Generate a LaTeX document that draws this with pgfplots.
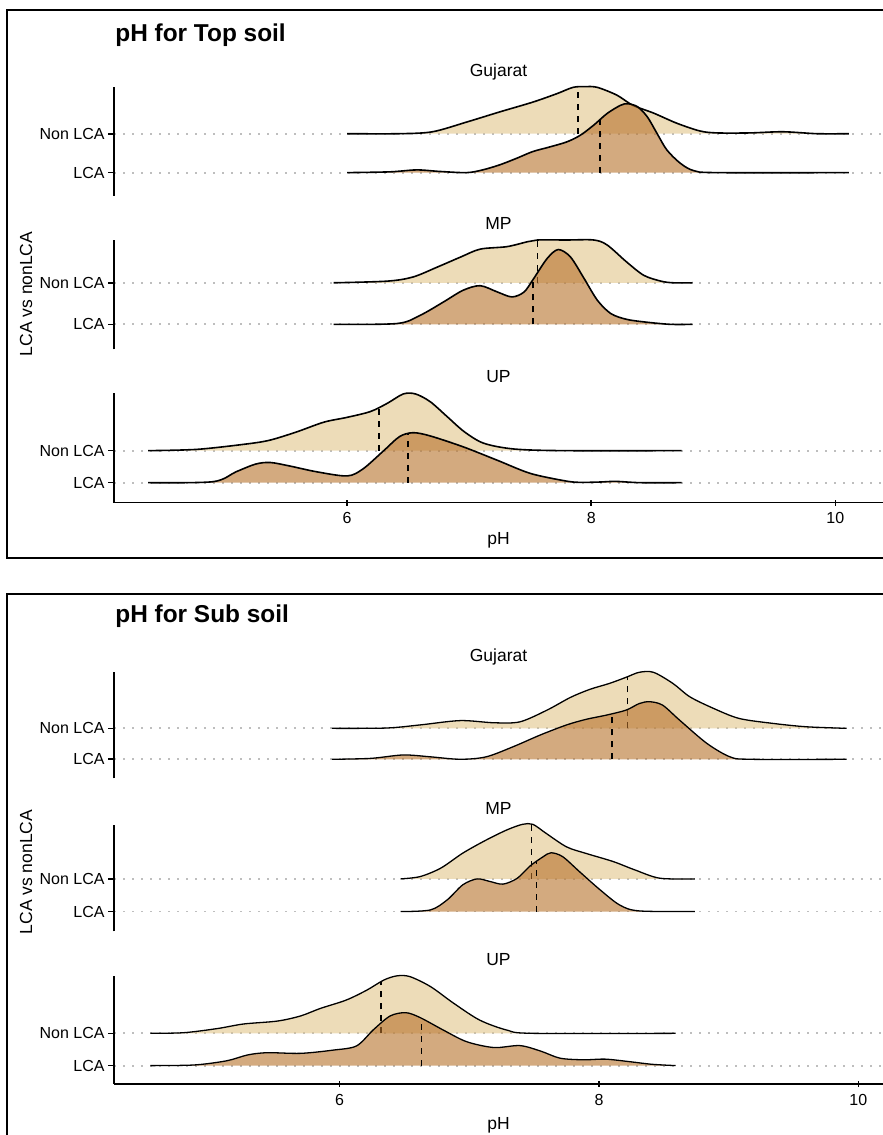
\documentclass[border=0pt]{standalone}
\usepackage{fontspec}
\setmainfont{Liberation Sans}
\usepackage{pgfplots}
\usepackage{pgfplotstable}
\pgfplotsset{compat=1.18}

\definecolor{nonlcafill}{RGB}{225,197,137}
\definecolor{lcafill}{RGB}{182,113,42}
\definecolor{gridc}{RGB}{190,190,190}

% ---------- Top soil densities (baseline: LCA = 1, Non LCA = 2) ----------
\pgfplotstableread{
x y
6.00 2.00
6.43 2.00
6.70 2.05
6.98 2.30
7.25 2.56
7.52 2.81
7.72 3.03
7.85 3.19
7.95 3.21
8.05 3.19
8.21 2.99
8.34 2.73
8.51 2.53
8.70 2.27
8.89 2.07
9.03 2.02
9.30 2.02
9.57 2.05
9.85 2.00
10.11 2.00
}\tGujNon
\pgfplotstableread{
x y
6.00 1.00
6.35 1.02
6.57 1.07
6.76 1.03
6.98 1.00
7.11 1.07
7.25 1.20
7.39 1.37
7.52 1.54
7.66 1.66
7.80 1.79
7.91 1.96
8.02 2.22
8.13 2.52
8.24 2.73
8.30 2.77
8.38 2.69
8.46 2.43
8.54 2.00
8.62 1.58
8.73 1.24
8.84 1.05
9.03 1.00
10.11 1.00
}\tGujLCA
\pgfplotstableread{
x y
5.89 2.00
6.33 2.04
6.54 2.14
6.74 2.38
6.93 2.62
7.09 2.81
7.31 2.87
7.48 2.99
7.56 3.03
7.80 3.03
8.02 3.03
8.13 2.91
8.29 2.50
8.43 2.18
8.57 2.04
8.67 2.00
8.83 2.00
}\tMPNon
\pgfplotstableread{
x y
5.89 1.00
6.41 1.02
6.60 1.22
6.79 1.54
6.95 1.82
7.09 1.93
7.23 1.78
7.35 1.66
7.45 1.78
7.53 2.11
7.64 2.59
7.73 2.80
7.83 2.62
7.94 2.11
8.05 1.58
8.16 1.26
8.29 1.12
8.46 1.05
8.65 1.00
8.83 1.00
}\tMPLCA
\pgfplotstableread{
x y
4.37 2.00
4.77 2.04
5.18 2.21
5.37 2.33
5.59 2.59
5.81 2.89
6.00 3.04
6.19 3.22
6.33 3.48
6.46 3.77
6.56 3.77
6.68 3.53
6.82 3.06
6.96 2.59
7.12 2.23
7.37 2.05
7.78 2.00
8.74 2.00
}\tUPNon
\pgfplotstableread{
x y
4.37 1.00
4.90 1.03
5.09 1.34
5.25 1.58
5.37 1.63
5.53 1.52
5.75 1.34
6.00 1.21
6.13 1.43
6.30 2.00
6.43 2.44
6.54 2.56
6.68 2.46
6.95 2.12
7.23 1.70
7.50 1.29
7.78 1.06
7.90 1.01
8.07 1.02
8.20 1.04
8.40 1.00
8.74 1.00
}\tUPLCA

% ---------- Sub soil densities ----------
\pgfplotstableread{
x y
5.94 2.00
6.36 2.01
6.62 2.11
6.93 2.25
7.19 2.18
7.39 2.21
7.60 2.59
7.78 3.00
7.93 3.26
8.08 3.45
8.21 3.65
8.31 3.81
8.42 3.81
8.57 3.45
8.70 3.02
8.88 2.65
9.08 2.32
9.34 2.16
9.60 2.05
9.91 2.00
}\bGujNon
\pgfplotstableread{
x y
5.94 1.00
6.24 1.03
6.49 1.14
6.70 1.08
6.93 1.00
7.13 1.08
7.34 1.41
7.55 1.79
7.75 2.11
7.90 2.29
8.06 2.43
8.21 2.59
8.31 2.80
8.39 2.86
8.49 2.75
8.62 2.27
8.83 1.52
9.01 1.08
9.17 1.00
9.91 1.00
}\bGujLCA
\pgfplotstableread{
x y
6.47 2.00
6.62 2.07
6.78 2.33
6.95 2.79
7.13 3.19
7.29 3.50
7.41 3.67
7.49 3.67
7.59 3.40
7.75 2.98
7.90 2.78
8.11 2.53
8.28 2.27
8.47 2.02
8.74 2.00
}\bMPNon
\pgfplotstableread{
x y
6.47 1.00
6.70 1.05
6.83 1.36
6.95 1.82
7.06 2.00
7.16 1.92
7.26 1.84
7.37 2.02
7.47 2.40
7.57 2.68
7.63 2.80
7.72 2.68
7.85 2.22
8.01 1.66
8.16 1.20
8.31 1.02
8.74 1.00
}\bMPLCA
\pgfplotstableread{
x y
4.54 2.00
4.80 2.02
5.06 2.15
5.26 2.29
5.52 2.38
5.70 2.54
5.85 2.77
6.05 3.03
6.21 3.34
6.34 3.65
6.44 3.78
6.54 3.76
6.70 3.45
6.88 2.93
7.08 2.41
7.29 2.10
7.49 2.00
8.59 2.00
}\bUPNon
\pgfplotstableread{
x y
4.54 1.00
4.88 1.02
5.13 1.15
5.29 1.33
5.44 1.40
5.70 1.38
5.95 1.48
6.13 1.61
6.26 2.11
6.39 2.54
6.51 2.64
6.62 2.49
6.80 2.10
6.98 1.74
7.19 1.56
7.39 1.62
7.55 1.45
7.70 1.23
7.88 1.18
8.05 1.20
8.24 1.12
8.41 1.04
8.59 1.00
}\bUPLCA

% one ridge: translucent fill, then the outline on top
\newcommand{\ridge}[3]{%
  \addplot[draw=none, fill=#2, fill opacity=0.6, smooth, tension=0.5] table {#1} -- cycle;
  \addplot[draw=black, line width=#3, smooth, tension=0.5] table {#1};
}

\pgfplotsset{
  facet/.style={
    anchor=south west, scale only axis, width=384.5pt,
    axis y line=left,
    axis line style={-, line width=0.8pt},
    ytick={1,2}, yticklabels={LCA,Non LCA},
    ymajorgrids,
    grid style={gridc, line width=0.9pt, dash pattern=on 0.9pt off 3.6pt},
    tick align=outside, major tick length=3pt,
    tick style={black, line width=0.8pt},
    yticklabel style={font=\fontsize{8}{9.6}\selectfont, inner sep=1.5pt},
    every axis title shift=0pt,
    title style={at={(0.5,1)}, anchor=base, yshift=5pt, font=\fontsize{8.75}{10}\selectfont},
    clip=false,
    /pgf/number format/assume math mode=true,
  },
  upperfacet/.style={axis x line=none, xtick=\empty},
  bottomfacet/.style={
    axis x line=bottom, xtick={6,8,10},
    x axis line style={-},
    every outer x axis line/.append style={-},
    xticklabel style={font=\fontsize{8}{9.6}\selectfont},
    xlabel={pH},
    xlabel style={at={(axis description cs:0.5,0)}, anchor=base, yshift=-#1, font=\fontsize{8.75}{10}\selectfont},
  },
  median/.style={black, line width=#1, dash pattern=on 3pt off 3pt},
}

\begin{document}
\begin{tikzpicture}
\useasboundingbox (0,0) rectangle (441.5pt,567.5pt);

% panel frames
\draw[line width=0.6pt] (3.5pt,288.5pt) rectangle (470pt,562.5pt);
\draw[line width=0.6pt] (3.5pt,-20pt) rectangle (470pt,270.5pt);

\node[anchor=base west, inner sep=0, font=\bfseries\fontsize{12.2}{14}\selectfont] at (57.5pt,546.5pt) {pH for Top soil};
\node[anchor=base west, inner sep=0, font=\bfseries\fontsize{12.2}{14}\selectfont] at (57.5pt,256pt) {pH for Sub soil};
\node[rotate=90, inner sep=0, font=\fontsize{8.75}{10}\selectfont] at (13pt,420.5pt) {LCA vs nonLCA};
\node[rotate=90, inner sep=0, font=\fontsize{8.75}{10}\selectfont] at (13pt,131.5pt) {LCA vs nonLCA};

% ================= Top soil =================
\begin{axis}[facet, upperfacet, at={(57pt,469.5pt)}, height=54.5pt,
  xmin=4.09, xmax=10.39, ymin=0.40, ymax=3.20, title={Gujarat}]
  \ridge{\tGujNon}{nonlcafill}{0.8pt}
  \addplot[median=0.9pt] coordinates {(7.89,2) (7.89,3.19)};
  \ridge{\tGujLCA}{lcafill}{0.8pt}
  \addplot[median=0.9pt] coordinates {(8.07,1) (8.07,2.35)};
\end{axis}

\begin{axis}[facet, upperfacet, at={(57pt,392.85pt)}, height=54.65pt,
  xmin=4.09, xmax=10.39, ymin=0.40, ymax=3.03, title={MP}]
  \ridge{\tMPNon}{nonlcafill}{0.8pt}
  \addplot[median=0.9pt] coordinates {(7.56,2) (7.56,3.03)};
  \ridge{\tMPLCA}{lcafill}{0.8pt}
  \addplot[median=0.9pt] coordinates {(7.52,1) (7.52,2.07)};
\end{axis}

\begin{axis}[facet, bottomfacet=21pt, at={(57pt,316.15pt)}, height=54.85pt,
  xmin=4.09, xmax=10.39, ymin=0.375, ymax=3.80, title={UP}]
  \ridge{\tUPNon}{nonlcafill}{0.8pt}
  \addplot[median=0.9pt] coordinates {(6.26,2) (6.26,3.35)};
  \ridge{\tUPLCA}{lcafill}{0.8pt}
  \addplot[median=0.9pt] coordinates {(6.50,1) (6.50,2.52)};
\end{axis}

% ================= Sub soil =================
\begin{axis}[facet, upperfacet, at={(57pt,178.25pt)}, height=53.25pt,
  xmin=4.26, xmax=10.19, ymin=0.38, ymax=3.82, title={Gujarat}]
  \ridge{\bGujNon}{nonlcafill}{0.65pt}
  \addplot[median=0.65pt] coordinates {(8.22,2) (8.22,3.67)};
  \ridge{\bGujLCA}{lcafill}{0.65pt}
  \addplot[median=0.65pt] coordinates {(8.10,1) (8.10,2.47)};
\end{axis}

\begin{axis}[facet, upperfacet, at={(57pt,101.75pt)}, height=53.25pt,
  xmin=4.26, xmax=10.19, ymin=0.39, ymax=3.65, title={MP}]
  \ridge{\bMPNon}{nonlcafill}{0.65pt}
  \addplot[median=0.65pt] coordinates {(7.48,2) (7.48,3.67)};
  \ridge{\bMPLCA}{lcafill}{0.65pt}
  \addplot[median=0.65pt] coordinates {(7.52,1) (7.52,2.54)};
\end{axis}

\begin{axis}[facet, bottomfacet=23pt, at={(57pt,25.5pt)}, height=54.05pt,
  xmin=4.26, xmax=10.19, ymin=0.43, ymax=3.78, title={UP}]
  \ridge{\bUPNon}{nonlcafill}{0.65pt}
  \addplot[median=0.65pt] coordinates {(6.32,2) (6.32,3.60)};
  \ridge{\bUPLCA}{lcafill}{0.65pt}
  \addplot[median=0.65pt] coordinates {(6.63,1) (6.63,2.47)};
\end{axis}
\end{tikzpicture}
\end{document}
